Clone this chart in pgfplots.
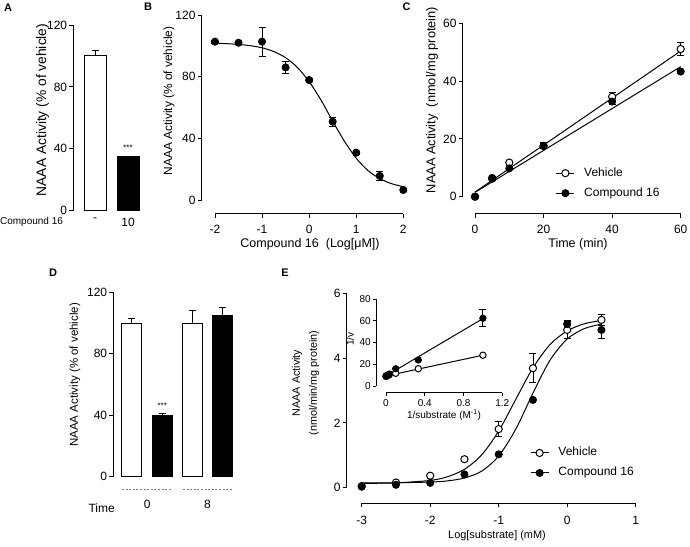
\documentclass[border=0pt]{standalone}
\usepackage{fontspec}
\setmainfont{Liberation Sans}
\usepackage{pgfplots}
\pgfplotsset{compat=1.18}
\newcommand{\fsz}[1]{\fontsize{#1}{#1}\selectfont}
\pgfplotsset{
 prism/.style={
  scale only axis, clip=false, anchor=south west,
  axis lines*=left, axis line style={draw=none},
  tick align=outside, major tick length=4pt,
  tick style={black, line width=0.9pt},
  tick label style={font=\fsz{12}},
  /pgf/number format/assume math mode=true,
  xticklabel style={inner sep=2pt}, yticklabel style={inner sep=2pt},
 },
 fpt/.style={only marks, mark=*, mark size=3.6pt, mark options={fill=black, draw=black, line width=0.8pt}},
 opt/.style={only marks, mark=*, mark size=3.6pt, mark options={fill=white, draw=black, line width=1pt}},
 ebar/.style={error bars/y dir=both, error bars/y explicit,
   error bars/error bar style={line width=0.9pt, black},
   error bars/error mark options={rotate=90, mark size=3.5pt, line width=0.9pt, black}},
 ebarup/.style={error bars/y dir=plus, error bars/y explicit,
   error bars/error bar style={line width=1pt, black},
   error bars/error mark options={rotate=90, mark size=3.5pt, line width=1pt, black}},
 fitline/.style={black, line width=1pt, no marks, smooth, forget plot},
 legimg/.style={legend image code/.code={\draw[black, line width=1pt] (-9pt,0pt)--(9pt,0pt); \draw[##1] plot coordinates {(0pt,0pt)};}},
}
\begin{document}
\begin{tikzpicture}
\useasboundingbox (0,0) rectangle (690pt,546pt);
% ---------------- Panel A
\begin{axis}[prism, at={(73.3pt,335.3pt)}, width=68.7pt, height=185.7pt,
  xmin=-0.658, xmax=1.424, ymin=0, ymax=120,
  ytick={0,40,80,120}, xtick={0,1}, xticklabels={-,10},
  xtick style={draw=none}, xticklabel style={yshift=-1pt}]
\addplot[ybar, bar shift=0pt, bar width=22pt, fill=white, draw=black, line width=1pt, ebarup] coordinates {(0,100) +- (0,3.2)};
\addplot[ybar, bar shift=0pt, bar width=22pt, fill=black, draw=black, line width=1pt] coordinates {(1,35)};
\draw[line width=1pt] (axis cs:-0.658,0) -- (axis cs:-0.658,120);
\node[font=\fsz{8}] at (axis cs:1,40.5) {***};
\end{axis}
\node[font=\fsz{10}, inner sep=0pt] at (31.5pt,324.5pt) {Compound 16};
\node[rotate=90, font=\fsz{13.8}] at (42.5pt,436pt) {NAAA Activity (\% of vehicle)};
% ---------------- Panel B
\begin{axis}[prism, at={(201.7pt,332pt)}, width=201.6pt, height=199pt,
  xmin=-2.282, xmax=2, ymin=-9.08, ymax=120,
  ytick={0,40,80,120}, xtick={-2,-1,0,1,2}, xticklabels={-2,-1,0,1,2},
  xticklabel style={yshift=-5pt}]
\addplot[fitline] coordinates {(-2,101.7) (-1.75,101.4) (-1.5,100.9) (-1.25,100.1) (-1,98.7) (-0.75,96.3) (-0.5,92.3) (-0.25,86.0) (0,76.8) (0.25,64.9) (0.5,51.2) (0.75,38.1) (1,27.1) (1.25,19.1) (1.5,13.9) (1.75,10.6) (2,8.6)};
\addplot[fpt, ebar] coordinates {(-2,102.7) +- (0,1) (-1.5,102) +- (0,0.8) (-1,102.7) +- (0,9.3) (-0.5,86) +- (0,4) (0,77.8) +- (0,1) (0.5,50.8) +- (0,3) (1,30.7) +- (0,1) (1.5,15.6) +- (0,3) (2,6.5) +- (0,1)};
\draw[line width=1pt] (axis cs:-2.282,0) -- (axis cs:-2.282,120);
\draw[line width=1pt] (axis cs:-2,-9.08) -- (axis cs:2,-9.08);
\end{axis}
\node[rotate=90, font=\fsz{11.9}] at (169pt,445pt) {NAAA Activity (\% of vehicle)};
\node[font=\fsz{12.5}] at (310pt,302pt) {Compound 16\ \ (Log[μM])};
% ---------------- Panel C
\begin{axis}[prism, at={(462.7pt,332pt)}, width=218pt, height=190.7pt,
  xmin=-3.59, xmax=60, ymin=-5.99, ymax=60,
  ytick={0,20,40,60}, xtick={0,20,40,60}, xticklabel style={yshift=-5pt},
  legend style={draw=none, fill=none, at={(0.4266,0.2517)}, anchor=north west, inner sep=0pt, row sep=6pt, column sep=8.3pt, font=\fsz{12},
    nodes={inner sep=1pt, text height=9pt, text depth=3pt}},
  legend cell align=left]
\addplot[fitline] coordinates {(0,1.6) (60,50.4)};
\addplot[fitline] coordinates {(0,1.5) (60,45)};
\addplot[opt, ebar, legimg] coordinates {(0,0) +- (0,0) (5,6.2) +- (0,0.5) (10,11.8) +- (0,0.5) (20,17.6) +- (0,1) (40,34.6) +- (0,1.3) (60,51.1) +- (0,2.1)};
\addlegendentry{Vehicle}
\addplot[fpt, ebar, legimg] coordinates {(0,0) +- (0,0) (5,6.5) +- (0,0.5) (10,9.8) +- (0,0.5) (20,17.5) +- (0,0.8) (40,32.9) +- (0,1) (60,43.3) +- (0,0.6)};
\addlegendentry{Compound 16}
\draw[line width=1pt] (axis cs:-3.59,0) -- (axis cs:-3.59,60);
\draw[line width=1pt] (axis cs:0,-5.99) -- (axis cs:60,-5.99);
\end{axis}
\node[rotate=90, font=\fsz{12.8}] at (432pt,446pt) {NAAA Activity\ \ (nmol/mg protein)};
\node[font=\fsz{12.5}] at (578pt,302pt) {Time (min)};
% ---------------- Panel D
\begin{axis}[prism, at={(113.3pt,69.3pt)}, width=126.7pt, height=184.4pt,
  xmin=-0.619, xmax=3.576, ymin=0, ymax=120,
  ytick={0,40,80,120}, xtick={0.5,2.5}, xticklabels={0,8},
  xtick style={draw=none}, xticklabel style={yshift=-17pt}]
\addplot[ybar, bar shift=0pt, bar width=20pt, fill=white, draw=black, line width=1pt, ebarup] coordinates {(0,100) +- (0,2.9) (2,100) +- (0,7.9)};
\addplot[ybar, bar shift=0pt, bar width=20pt, fill=black, draw=black, line width=1pt, ebarup] coordinates {(1,39.9) +- (0,1.1) (3,104.8) +- (0,5.4)};
\draw[line width=1pt] (axis cs:-0.619,0) -- (axis cs:-0.619,120);
\draw[gray, line width=1pt, dash pattern=on 2pt off 1.6pt] (axis cs:-0.33,-8.2) -- (axis cs:1.32,-8.2);
\draw[gray, line width=1pt, dash pattern=on 2pt off 1.6pt] (axis cs:1.69,-8.2) -- (axis cs:3.34,-8.2);
\node[font=\fsz{8}] at (axis cs:1,46) {***};
\end{axis}
\node[rotate=90, font=\fsz{11.5}] at (75pt,171pt) {NAAA Activity (\% of vehicle)};
\node[font=\fsz{12}] at (101.7pt,38pt) {Time};
% ---------------- Panel E
\begin{axis}[prism, at={(346.7pt,42.7pt)}, width=289pt, height=210pt,
  xmin=-3.219, xmax=1, ymin=-0.481, ymax=6,
  ytick={0,2,4,6}, xtick={-3,-2,-1,0,1}, xticklabels={-3,-2,-1,0,1},
  xticklabel style={yshift=-7pt},
  legend style={draw=none, fill=none, at={(0.634,0.274)}, anchor=north west, inner sep=0pt, row sep=6pt, column sep=8.3pt, font=\fsz{12},
    nodes={inner sep=1pt, text height=9pt, text depth=3pt}},
  legend cell align=left]
\addplot[fitline] coordinates {(-3,0.134) (-2.5,0.15) (-2,0.225) (-1.75,0.337) (-1.5,0.568) (-1.25,1.01) (-1,1.75) (-0.75,2.73) (-0.5,3.70) (-0.25,4.42) (0,4.84) (0.25,5.06) (0.5,5.16)};
\addplot[fitline] coordinates {(-3,0.15) (-2.5,0.154) (-2,0.175) (-1.75,0.21) (-1.5,0.30) (-1.25,0.51) (-1,0.98) (-0.75,1.81) (-0.5,2.92) (-0.25,3.94) (0,4.59) (0.25,4.91) (0.5,5.05)};
\addplot[opt, ebar, legimg] coordinates {(-3,0.05) +- (0,0) (-2.5,0.16) +- (0,0) (-2,0.37) +- (0,0) (-1.5,0.88) +- (0,0) (-1,1.81) +- (0,0.22) (-0.5,3.69) +- (0,0.45) (0,4.87) +- (0,0.26) (0.5,5.18) +- (0,0.17)};
\addlegendentry{Vehicle}
\addplot[fpt, ebar, legimg] coordinates {(-3,0.03) +- (0,0) (-2.5,0.09) +- (0,0) (-2,0.15) +- (0,0) (-1.5,0.41) +- (0,0) (-1,1.03) +- (0,0) (-0.5,2.71) +- (0,0) (0,5.05) +- (0,0.12) (0.5,4.87) +- (0,0.27)};
\addlegendentry{Compound 16}
\draw[line width=1pt] (axis cs:-3.219,0) -- (axis cs:-3.219,6);
\draw[line width=1pt] (axis cs:-3,-0.481) -- (axis cs:1,-0.481);
\end{axis}
\node[rotate=90, font=\fsz{10.8}] at (297pt,163pt) {NAAA Activity};
\node[rotate=90, font=\fsz{10.8}] at (314pt,163pt) {(nmol/min/mg protein)};
\node[font=\fsz{10.9}] at (497pt,10pt) {Log[substrate] (mM)};
% ---------------- Inset
\begin{axis}[prism, at={(376pt,153.3pt)}, width=126.3pt, height=93.7pt,
  xmin=-0.103, xmax=1.2, ymin=-6.16, ymax=80,
  major tick length=3pt, tick label style={font=\fsz{10}},
  ytick={0,20,40,60,80}, xtick={0,0.4,0.8,1.2}, xticklabels={0,0.4,0.8,1.2},
  xticklabel style={yshift=-1.5pt}]
\addplot[fitline] coordinates {(0,9.2) (1,28.3)};
\addplot[fitline] coordinates {(0,9.3) (1,62)};
\addplot[opt, ebar, mark size=3.2pt] coordinates {(0.001,9.0) +- (0,0) (0.0033,9.2) +- (0,0) (0.01,9.5) +- (0,0) (0.033,10.3) +- (0,0) (0.1,11.7) +- (0,0) (0.333,15.9) +- (0,0) (1,28.3) +- (0,0)};
\addplot[fpt, ebar, mark size=3.2pt] coordinates {(0.001,8.8) +- (0,0) (0.0033,9.1) +- (0,0) (0.01,9.6) +- (0,0) (0.033,11.0) +- (0,0) (0.1,15.9) +- (0,0) (0.333,23.9) +- (0,0) (1,62.3) +- (0,7.7)};
\draw[line width=1pt] (axis cs:-0.103,0) -- (axis cs:-0.103,80);
\draw[line width=1pt] (axis cs:0,-6.16) -- (axis cs:1.2,-6.16);
\end{axis}
\node[font=\fsz{10}] at (444pt,131pt) {1/substrate (M\textsuperscript{-1})};
\node[rotate=90, font=\fsz{10}] at (350pt,207pt) {1/v};
% ---------------- Panel letters
\node[font=\bfseries\fsz{11}] at (8pt,538pt) {A};
\node[font=\bfseries\fsz{11}] at (148pt,539pt) {B};
\node[font=\bfseries\fsz{11}] at (406.7pt,539pt) {C};
\node[font=\bfseries\fsz{11}] at (53pt,273.3pt) {D};
\node[font=\bfseries\fsz{11}] at (285pt,273.3pt) {E};
\end{tikzpicture}
\end{document}
